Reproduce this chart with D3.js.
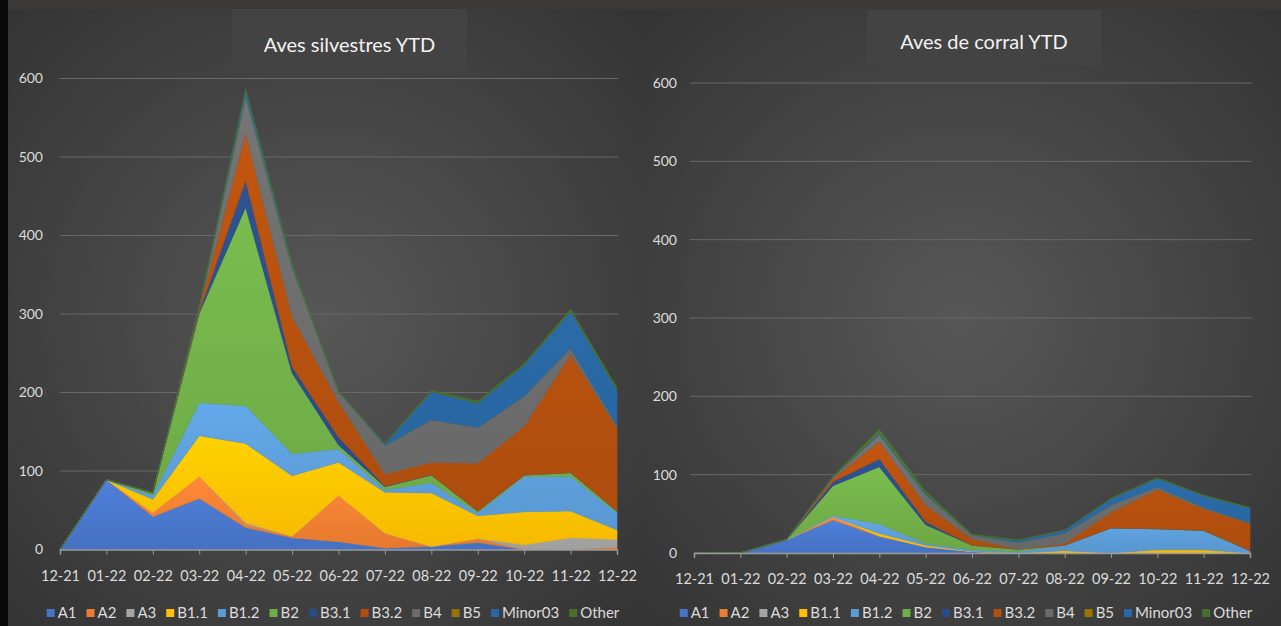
<!DOCTYPE html>
<html>
  <head>
    <meta charset="utf-8">
    <style>
      body { margin: 0; background: #3b3a38; }
      svg { display: block; font-family: Lato, "Open Sans", sans-serif; }
    </style>
  </head>
  <body>
    <script src="https://cdn.jsdelivr.net/npm/d3@7"></script>
    <script>
      // months on the x axis
      var months = ["12-21", "01-22", "02-22", "03-22", "04-22", "05-22", "06-22",
                    "07-22", "08-22", "09-22", "10-22", "11-22", "12-22"];
      var seriesNames = ["A1", "A2", "A3", "B1.1", "B1.2", "B2", "B3.1", "B3.2", "B4", "B5", "Minor03", "Other"];
      var seriesColors = ["#4775c8", "#ed7d31", "#a5a5a5", "#ffc000", "#5b9bd5", "#70ad47",
                          "#2a4c86", "#b24f0e", "#6b6b6b", "#997300", "#2867a3", "#46702c"];
      var yTicks = [0, 100, 200, 300, 400, 500, 600];

      // Aves silvestres, one row per series (same order as seriesNames)
      var silvestres = [
        [0, 89, 42, 65, 28, 15, 10, 2, 4, 9, 0, 0, 0],          // A1
        [0, 0, 5, 28, 4, 2, 59, 19, 0, 5, 0, 0, 3],             // A2
        [0, 0, 0, 0, 2, 0, 0, 0, 0, 0, 6, 15, 10],              // A3
        [0, 0, 17, 52, 101, 77, 42, 52, 68, 29, 42, 34, 12],    // B1.1
        [0, 0, 5, 42, 48, 28, 17, 3, 13, 4, 45, 44, 22],        // B1.2
        [0, 0, 3, 114, 253, 103, 5, 4, 10, 2, 2, 5, 2],         // B2
        [0, 0, 0, 2, 34, 8, 10, 1, 0, 0, 0, 0, 0],              // B3.1
        [0, 0, 0, 3, 60, 64, 45, 15, 16, 61, 62, 150, 106],     // B3.2
        [0, 0, 0, 2, 46, 62, 13, 36, 54, 45, 38, 8, 2],         // B4
        [0, 0, 0, 0, 0, 0, 0, 0, 0, 0, 0, 0, 0],                // B5
        [0, 0, 0, 0, 8, 3, 0, 2, 36, 31, 40, 47, 46],           // Minor03
        [0, 0, 1, 1, 3, 3, 1, 1, 2, 3, 2, 3, 3]                 // Other
      ];

      // Aves de corral
      var corral = [
        [0, 0, 17, 42, 21, 8, 2, 0, 0, 0, 0, 0, 0],             // A1
        [0, 0, 0, 4, 1, 0, 0, 0, 0, 0, 0, 0, 0],                // A2
        [0, 0, 0, 0, 0, 0, 0, 0, 0, 0, 0, 0, 0],                // A3
        [0, 0, 0, 0, 3, 2, 0, 0, 3, 0, 4, 4, 0],                // B1.1
        [0, 0, 0, 2, 12, 2, 2, 2, 7, 32, 27, 24, 3],            // B1.2
        [0, 0, 0, 38, 73, 24, 6, 3, 0, 0, 0, 1, 0],             // B2
        [0, 0, 0, 5, 10, 4, 0, 0, 0, 0, 0, 0, 0],               // B3.1
        [0, 0, 0, 4, 22, 21, 8, 0, 2, 20, 50, 27, 35],          // B3.2
        [0, 0, 0, 2, 9, 13, 5, 8, 13, 9, 3, 2, 0],              // B4
        [0, 0, 0, 0, 0, 0, 0, 0, 0, 0, 0, 0, 0],                // B5
        [0, 0, 0, 0, 2, 2, 0, 3, 4, 8, 11, 15, 19],             // Minor03
        [0, 0, 0, 1, 5, 3, 1, 1, 0, 1, 1, 1, 1]                 // Other
      ];

      var W = 1281, H = 626;
      var svg = d3.select("body").append("svg")
          .attr("width", W)
          .attr("height", H);

      var defs = svg.append("defs");
      var bg = defs.append("radialGradient").attr("id", "panelBg")
          .attr("cx", "50%").attr("cy", "50%").attr("r", "70%");
      bg.append("stop").attr("offset", "0%").attr("stop-color", "#575757");
      bg.append("stop").attr("offset", "100%").attr("stop-color", "#343434");

      // one gradient per series, a bit lighter at the top like the Excel style
      seriesColors.forEach(function(c, i) {
        var lg = defs.append("linearGradient").attr("id", "fill" + i)
            .attr("x1", 0).attr("y1", 0).attr("x2", 0).attr("y2", 1);
        lg.append("stop").attr("offset", "0%").attr("stop-color", d3.color(c).brighter(0.25));
        lg.append("stop").attr("offset", "100%").attr("stop-color", d3.color(c).darker(0.1));
      });

      // top strip + black left border
      svg.append("rect").attr("width", W).attr("height", H).attr("fill", "#3b3a38");
      svg.append("rect").attr("x", 0).attr("y", 0).attr("width", 8).attr("height", H).attr("fill", "#0a0a0a");

      function drawChart(cfg) {
        var g = svg.append("g");

        g.append("rect")
          .attr("x", cfg.panel[0]).attr("y", 9)
          .attr("width", cfg.panel[1] - cfg.panel[0]).attr("height", H - 9)
          .attr("fill", "url(#panelBg)");

        // title box
        g.append("rect")
          .attr("x", cfg.titleBox[0]).attr("y", cfg.titleBox[1])
          .attr("width", cfg.titleBox[2]).attr("height", cfg.titleBox[3])
          .attr("fill", "#444444").attr("opacity", 0.9);
        g.append("text")
          .attr("x", cfg.titleBox[0] + cfg.titleBox[2] / 2)
          .attr("y", cfg.titleY)
          .attr("text-anchor", "middle")
          .attr("fill", "#f2f2f2")
          .style("font-size", "20px")
          .text(cfg.title);

        var x = d3.scalePoint().domain(months).range([cfg.x0, cfg.x1]);
        var y = d3.scaleLinear().domain([0, 600]).range([cfg.y0, cfg.y600]);

        // gridlines
        g.append("g")
          .selectAll("line")
          .data(yTicks.slice(1))
          .enter()
          .append("line")
          .attr("x1", cfg.gridX[0]).attr("x2", cfg.gridX[1])
          .attr("y1", function(d) { return y(d); })
          .attr("y2", function(d) { return y(d); })
          .attr("stroke", "#696969")
          .attr("stroke-width", 1);

        // y axis labels (no line)
        var yAxis = g.append("g")
          .attr("transform", "translate(" + cfg.yLabelX + ",0)")
          .call(d3.axisLeft(y).tickValues(yTicks).tickSize(0).tickPadding(0));
        yAxis.select(".domain").remove();
        yAxis.selectAll("text")
          .attr("fill", "#dcdcdc")
          .style("font-size", "14px")
          .style("font-family", "Lato, sans-serif");

        // stacked areas
        var rows = months.map(function(m, j) {
          var r = { month: m };
          seriesNames.forEach(function(s, i) { r[s] = cfg.values[i][j]; });
          return r;
        });
        var stack = d3.stack().keys(seriesNames)(rows);

        var area = d3.area()
          .x(function(d) { return x(d.data.month); })
          .y0(function(d) { return y(d[0]); })
          .y1(function(d) { return y(d[1]); });

        g.append("g")
          .selectAll("path")
          .data(stack)
          .enter()
          .append("path")
          .attr("d", area)
          .attr("fill", function(d, i) { return "url(#fill" + i + ")"; })
          .attr("stroke", function(d, i) { return seriesColors[i]; })
          .attr("stroke-width", 0.6)
          .attr("stroke-linejoin", "round");

        // x axis
        var xAxis = g.append("g")
          .attr("transform", "translate(0," + cfg.y0 + ")")
          .call(d3.axisBottom(x).tickSize(5).tickPadding(16));
        xAxis.select(".domain").attr("stroke", "#9a9a9a").attr("stroke-width", 1.5);
        xAxis.selectAll(".tick line").attr("stroke", "#9a9a9a");
        xAxis.selectAll("text")
          .attr("fill", "#dcdcdc")
          .style("font-size", "14.5px")
          .style("font-family", "Lato, sans-serif");

        // legend
        var leg = g.append("g");
        var items = leg.selectAll("g")
          .data(seriesNames)
          .enter()
          .append("g");
        items.append("rect")
          .attr("width", 8).attr("height", 8)
          .attr("y", -9)
          .attr("fill", function(d, i) { return seriesColors[i]; });
        items.append("text")
          .attr("x", 11)
          .attr("fill", "#dcdcdc")
          .style("font-size", "15px")
          .text(function(d) { return d; });
        var pos = 0;
        items.each(function() {
          var w = d3.select(this).select("text").node().getComputedTextLength();
          d3.select(this).attr("transform", "translate(" + pos + ",0)");
          pos += 11 + w + 10;
        });
        pos -= 10;
        leg.attr("transform", "translate(" + (cfg.legendCx - pos / 2) + "," + cfg.legendY + ")");
      }

      drawChart({
        title: "Aves silvestres YTD",
        values: silvestres,
        panel: [8, 642],
        titleBox: [232, 9, 235, 62],
        titleY: 52,
        x0: 60, x1: 617,
        y0: 549.5, y600: 78.5,
        gridX: [60, 618],
        yLabelX: 43,
        legendCx: 333,
        legendY: 618
      });

      drawChart({
        title: "Aves de corral YTD",
        values: corral,
        panel: [642, 1281],
        titleBox: [867, 10, 234, 56],
        titleY: 49,
        x0: 694, x1: 1250,
        y0: 553, y600: 83,
        gridX: [690, 1252],
        yLabelX: 677,
        legendCx: 966,
        legendY: 618
      });
    </script>
  </body>
</html>
